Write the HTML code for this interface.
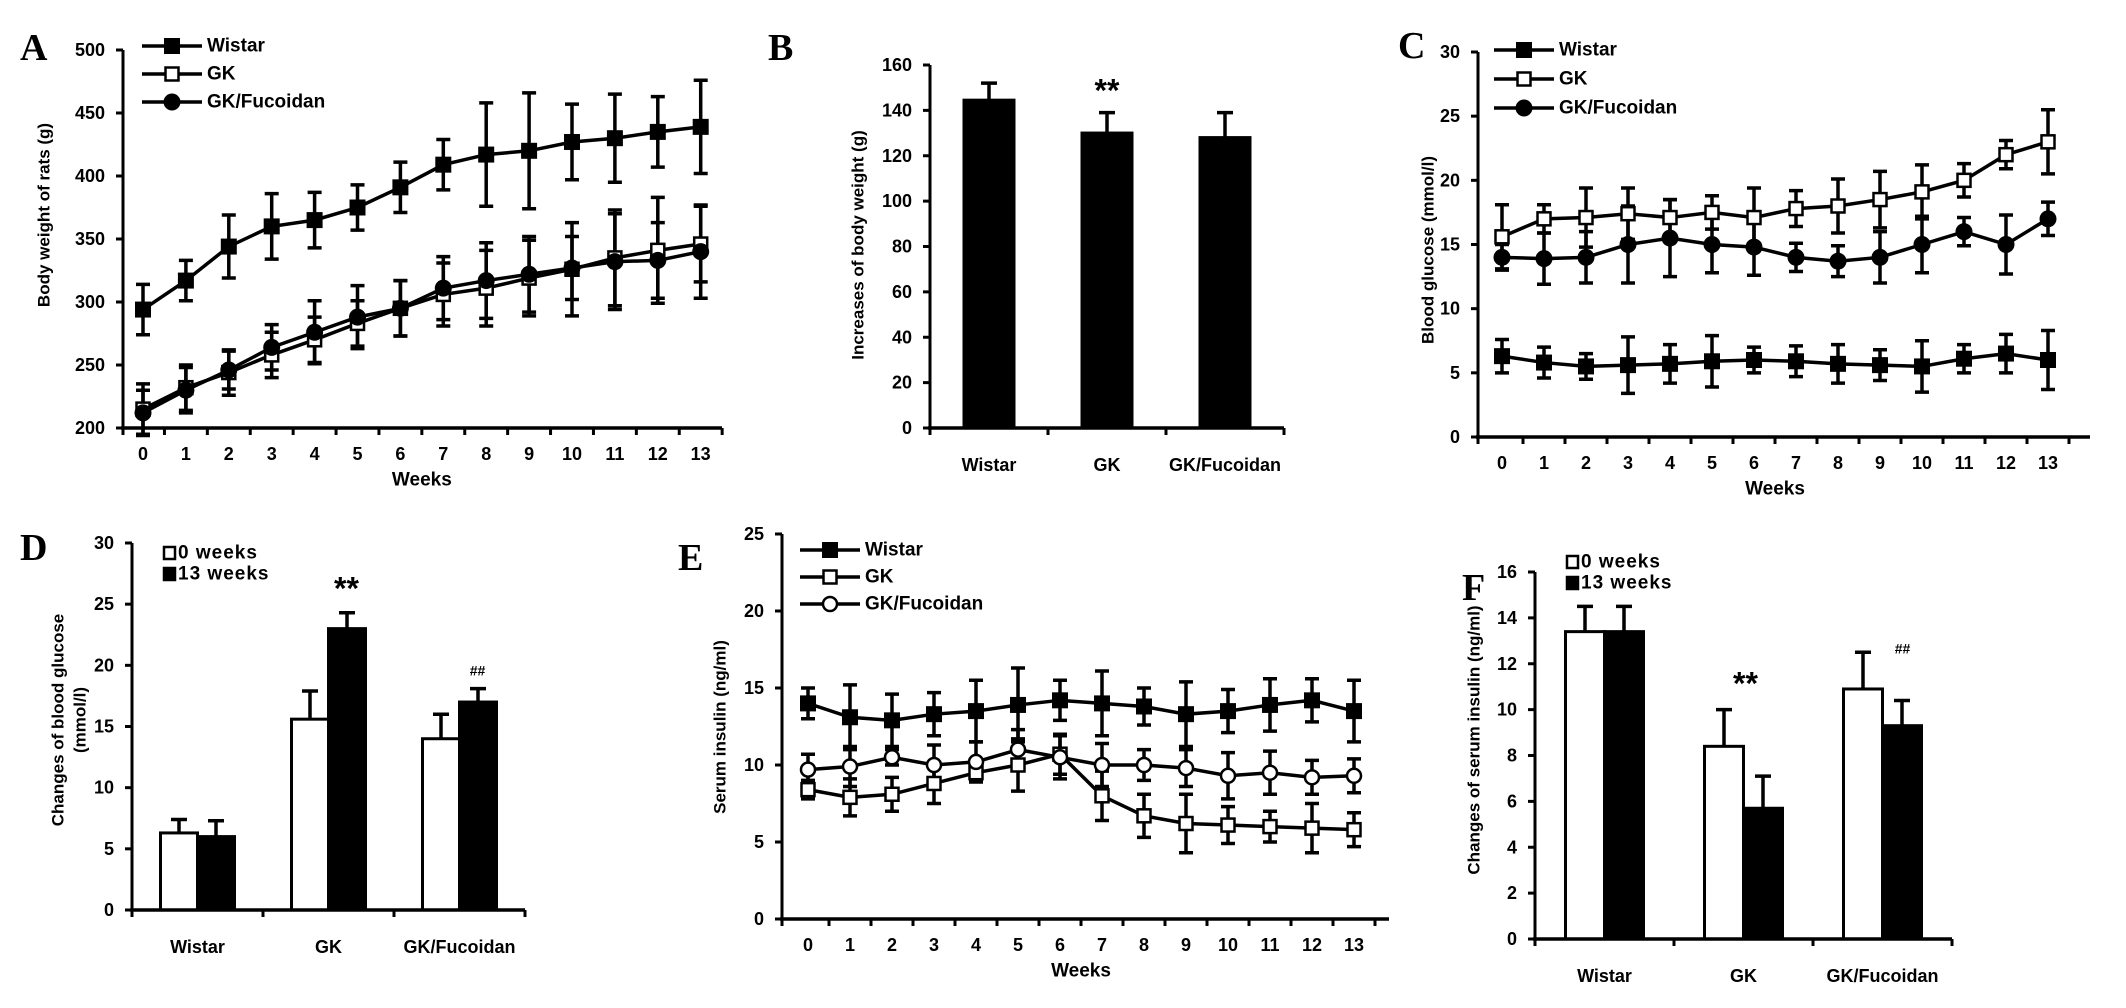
<!DOCTYPE html>
<html><head><meta charset="utf-8"><style>
html,body{margin:0;padding:0;background:#fff;}
svg{display:block;}
text{font-family:"Liberation Sans",sans-serif;font-weight:bold;fill:#000;}
.plabel{font-family:"Liberation Serif",serif;font-size:38px;font-weight:bold;}
</style></head><body>
<svg id="fig" width="2126" height="1008" viewBox="0 0 2126 1008" xmlns="http://www.w3.org/2000/svg"></svg>
<script>
// ---------- data ----------
const weeks = [0,1,2,3,4,5,6,7,8,9,10,11,12,13];
// Panel A: body weight
const A_wistar    = [294,317,344,360,365,375,391,409,417,420,427,430,435,439];
const A_wistarErr = [20,16,25,26,22,18,20,20,41,46,30,35,28,37];
const A_gk        = [215,232,244,258,270,283,295,306,311,319,326,335,341,346];
const A_gkErr     = [20,18,18,18,18,18,22,25,30,30,37,38,42,30];
const A_fuc       = [212,230,246,264,276,288,295,311,317,322,327,332,333,340];
const A_fucErr    = [18,18,15,18,25,25,22,25,30,30,25,38,30,37];
const A_yTicks    = [200,250,300,350,400,450,500];
// Panel B: increases of body weight
const B_categories = ["Wistar","GK","GK/Fucoidan"];
const B_values     = [144.5,130,128];
const B_errors     = [7.5,9,11];
const B_yTicks     = [0,20,40,60,80,100,120,140,160];
// Panel C: blood glucose
const C_wistar    = [6.3,5.8,5.5,5.6,5.7,5.9,6.0,5.9,5.7,5.6,5.5,6.1,6.5,6.0];
const C_wistarErr = [1.3,1.2,1.0,2.2,1.5,2.0,1.0,1.2,1.5,1.2,2.0,1.1,1.5,2.3];
const C_gk        = [15.6,17.0,17.1,17.4,17.1,17.5,17.1,17.8,18.0,18.5,19.1,20.0,22.0,23.0];
const C_gkErr     = [2.5,1.1,2.3,2.0,1.4,1.3,2.3,1.4,2.1,2.2,2.1,1.3,1.1,2.5];
const C_fuc       = [14.0,13.9,14.0,15.0,15.5,15.0,14.8,14.0,13.7,14.0,15.0,16.0,15.0,17.0];
const C_fucErr    = [1.0,2.0,2.0,3.0,3.0,2.2,2.2,1.1,1.2,2.0,2.2,1.1,2.3,1.3];
const C_yTicks    = [0,5,10,15,20,25,30];
// Panel D: changes of blood glucose
const D_categories = ["Wistar","GK","GK/Fucoidan"];
const D_week0      = [6.3,15.6,14.0];
const D_week0Err   = [1.1,2.3,2.0];
const D_week13     = [6.0,23.0,17.0];
const D_week13Err  = [1.3,1.3,1.1];
const D_yTicks     = [0,5,10,15,20,25,30];
// Panel E: serum insulin
const E_wistar    = [14.0,13.1,12.9,13.3,13.5,13.9,14.2,14.0,13.8,13.3,13.5,13.9,14.2,13.5];
const E_wistarErr = [1.0,2.1,1.7,1.4,2.0,2.4,1.3,2.1,1.2,2.1,1.4,1.7,1.4,2.0];
const E_gk        = [8.4,7.9,8.1,8.8,9.5,10.0,10.7,8.0,6.7,6.2,6.1,6.0,5.9,5.8];
const E_gkErr     = [0.6,1.2,1.1,1.3,0.4,1.7,1.3,1.6,1.4,1.9,1.2,1.0,1.6,1.1];
const E_fuc       = [9.7,9.9,10.5,10.0,10.2,11.0,10.5,10.0,10.0,9.8,9.3,9.5,9.2,9.3];
const E_fucErr    = [1.0,1.3,0.5,1.3,1.3,1.3,1.4,1.4,1.0,1.2,1.5,1.4,1.1,1.1];
const E_yTicks    = [0,5,10,15,20,25];
// Panel F: changes of serum insulin
const F_categories = ["Wistar","GK","GK/Fucoidan"];
const F_week0      = [13.4,8.4,10.9];
const F_week0Err   = [1.1,1.6,1.6];
const F_week13     = [13.4,5.7,9.3];
const F_week13Err  = [1.1,1.4,1.1];
const F_yTicks     = [0,2,4,6,8,10,12,14,16];

// ---------- helpers ----------
const NS = "http://www.w3.org/2000/svg";
const svg = document.getElementById("fig");
function mk(tag, attrs, parent){
  const el = document.createElementNS(NS, tag);
  for (const k in attrs) el.setAttribute(k, attrs[k]);
  (parent || svg).appendChild(el);
  return el;
}
function txt(x, y, s, size, anchor, parent){
  const t = mk("text", {x:x, y:y, "font-size":size, "text-anchor":anchor||"middle", "dominant-baseline":"central"}, parent);
  t.textContent = s;
  return t;
}
function makeScale(d0, d1, p0, p1){ return v => p0 + (v - d0) / (d1 - d0) * (p1 - p0); }

function yAxis(g, ax, yScale, ticks, top){
  const l = mk("line", {x1:ax, y1:yScale(ticks[0]), x2:ax, y2:top, stroke:"#000", "stroke-width":3}, g);
  
  
  ticks.forEach(v => {
    const tk = mk("line", {x1:ax-7, y1:yScale(v), x2:ax, y2:yScale(v), stroke:"#000", "stroke-width":3}, g);
    
    
    const t = txt(ax-18, yScale(v), String(v), 18, "end", g);
    
    
  });
}
function yTitle(g, x, y, lines){
  lines.forEach((s, i) => {
    const t = mk("text", {x:0, y:0, "font-size":17, "text-anchor":"middle", "dominant-baseline":"central",
      transform:"translate(" + (x + i*22) + "," + y + ") rotate(-90)"}, g);
    t.textContent = s;
    
    
  });
}
function panelLabel(x, y, s){
  const t = mk("text", {x:x, y:y, class:"plabel"});
  t.textContent = s;
  
  
}
function marker(g, type, x, y){
  let m;
  if (type === "fsq") m = mk("rect", {x:x-8, y:y-8, width:16, height:16, fill:"#000"}, g);
  else if (type === "osq") m = mk("rect", {x:x-6.5, y:y-6.5, width:13, height:13, fill:"#fff", stroke:"#000", "stroke-width":2.5}, g);
  else if (type === "fci") m = mk("circle", {cx:x, cy:y, r:8.5, fill:"#000"}, g);
  else m = mk("circle", {cx:x, cy:y, r:7, fill:"#fff", stroke:"#000", "stroke-width":2.5}, g);
  
  
}
function errBar(g, x, yc, ytop, ybot, cap){
  const e = mk("path", {d:"M"+x+","+ytop+"V"+ybot+"M"+(x-cap)+","+ytop+"H"+(x+cap)+(ybot!==yc?"M"+(x-cap)+","+ybot+"H"+(x+cap):""),
    stroke:"#000", "stroke-width":3.5, fill:"none"}, g);
  
  
}

// ---------- line chart ----------
function lineChart(name, cfg, seriesList){
  const g = mk("g", {});
  
  
  const yS = makeScale(cfg.yMin, cfg.yMax, cfg.y0, cfg.yTop);
  const xS = makeScale(0, 1, cfg.w0, cfg.w0 + cfg.sp);
  yAxis(g, cfg.ax, yS, cfg.yTicks, cfg.yTop);
  const xl = mk("line", {x1:cfg.ax-2, y1:cfg.y0, x2:cfg.xEnd, y2:cfg.y0, stroke:"#000", "stroke-width":3.5}, g);
  
  
  for (let i = 0; i <= weeks.length; i++){
    const tx = i === 0 ? cfg.ax : xS(weeks[0] + i - 0.5);
    const tk = mk("line", {x1:tx, y1:cfg.y0, x2:tx, y2:cfg.y0+7, stroke:"#000", "stroke-width":3}, g);
    
    
  }
  weeks.forEach(w => {
    const t = txt(xS(w), cfg.y0+26, String(w), 18, "middle", g);
    
    
  });
  const wt = txt(xS(6.5), cfg.y0+52, "Weeks", 19, "middle", g);
  
  
  seriesList.forEach(s => {
    s.vals.forEach((v, i) => errBar(g, xS(weeks[i]), yS(v), yS(v + s.errs[i]), yS(v - s.errs[i]), 7));
  });
  seriesList.forEach(s => {
    const d = s.vals.map((v, i) => (i ? "L" : "M") + xS(weeks[i]) + "," + yS(v)).join("");
    const p = mk("path", {d:d, stroke:"#000", "stroke-width":3.5, fill:"none"}, g);
    
    
  });
  seriesList.forEach(s => s.vals.forEach((v, i) => marker(g, s.marker, xS(weeks[i]), yS(v))));
  // legend
  seriesList.forEach((s, i) => {
    const ly = cfg.legY + i * cfg.legDy;
    const lg = mk("g", {}, g);
    
    
    mk("line", {x1:cfg.legX, y1:ly, x2:cfg.legX+60, y2:ly, stroke:"#000", "stroke-width":3.5}, lg);
    marker(lg, s.marker, cfg.legX+30, ly);
    const t = txt(cfg.legX+65, ly, s.label, 19, "start", lg);
    
    
  });
  return {g:g, xS:xS, yS:yS};
}

// ---------- bar chart ----------
function barChart(name, cfg, cats, pairs){
  const g = mk("g", {});
  
  
  const yS = makeScale(cfg.yMin, cfg.yMax, cfg.y0, cfg.yTop);
  const gx = i => cfg.ax + (i + 0.5) * cfg.gsp;
  yAxis(g, cfg.ax, yS, cfg.yTicks, cfg.yTop);
  const xEnd = cfg.ax + cats.length * cfg.gsp;
  pairs.forEach((p, pi) => {
    p.vals.forEach((v, i) => {
      const x0 = pairs.length === 1 ? gx(i) - cfg.bw/2 : gx(i) + (pi - 1) * cfg.bw;
      const r = mk("rect", {x:x0, y:yS(v), width:cfg.bw, height:cfg.y0 - yS(v), fill:p.fill, stroke:"#000", "stroke-width":3}, g);
      
      
      errBar(g, x0 + cfg.bw/2, yS(v), yS(v + p.errs[i]), yS(v), 8);
    });
  });
  const xl = mk("line", {x1:cfg.ax-2, y1:cfg.y0, x2:xEnd, y2:cfg.y0, stroke:"#000", "stroke-width":3.5}, g);
  
  
  for (let i = 0; i <= cats.length; i++){
    const tk = mk("line", {x1:cfg.ax + i*cfg.gsp, y1:cfg.y0, x2:cfg.ax + i*cfg.gsp, y2:cfg.y0+7, stroke:"#000", "stroke-width":3}, g);
    
    
  }
  cats.forEach((c, i) => {
    const t = txt(gx(i), cfg.y0+37, c, 18, "middle", g);
    
    
  });
  return {g:g, yS:yS, gx:gx};
}
function barLegend(g, x, y){
  [["0 weeks","#fff"],["13 weeks","#000"]].forEach((e, i) => {
    const lg = mk("g", {}, g);
    
    
    mk("rect", {x:x, y:y + i*21 - 6, width:11, height:12, fill:e[1], stroke:"#000", "stroke-width":2.5}, lg);
    const t = mk("text", {x:x+14, y:y + i*21, "font-size":19, "dominant-baseline":"central", "letter-spacing":"1"}, lg);
    t.textContent = e[0];
    
    
  });
}
function sig(g, x, y, s, size){
  const t = mk("text", {x:x, y:y, "font-size":size, "text-anchor":"middle", "dominant-baseline":"central"}, g);
  t.textContent = s;
  
  
}

// ---------- build ----------
panelLabel(20, 60, "A");
const A = lineChart("panel-a-body-weight", {ax:123, xEnd:722, y0:428, yTop:50, yMin:200, yMax:500, yTicks:A_yTicks,
  w0:143, sp:42.9, legX:142, legY:46, legDy:28},
  [{key:"wistar", label:"Wistar", vals:A_wistar, errs:A_wistarErr, marker:"fsq"},
   {key:"gk", label:"GK", vals:A_gk, errs:A_gkErr, marker:"osq"},
   {key:"gk-fucoidan", label:"GK/Fucoidan", vals:A_fuc, errs:A_fucErr, marker:"fci"}]);
yTitle(A.g, 44, 215, ["Body weight of rats (g)"]);

panelLabel(768, 60, "B");
const B = barChart("panel-b-weight-increase", {ax:930, gsp:118, bw:50, y0:428, yTop:65, yMin:0, yMax:160, yTicks:B_yTicks},
  B_categories, [{key:"increase", vals:B_values, errs:B_errors, fill:"#000"}]);
yTitle(B.g, 858, 245, ["Increases of body weight (g)"]);
sig(B.g, B.gx(1), B.yS(B_values[1] + B_errors[1]) - 22, "**", 32);

panelLabel(1398, 58, "C");
const C = lineChart("panel-c-blood-glucose", {ax:1478, xEnd:2090, y0:437, yTop:52, yMin:0, yMax:30, yTicks:C_yTicks,
  w0:1502, sp:42, legX:1494, legY:50, legDy:29},
  [{key:"wistar", label:"Wistar", vals:C_wistar, errs:C_wistarErr, marker:"fsq"},
   {key:"gk", label:"GK", vals:C_gk, errs:C_gkErr, marker:"osq"},
   {key:"gk-fucoidan", label:"GK/Fucoidan", vals:C_fuc, errs:C_fucErr, marker:"fci"}]);
yTitle(C.g, 1428, 250, ["Blood glucose  (mmol/l)"]);

panelLabel(20, 560, "D");
const D = barChart("panel-d-glucose-change", {ax:132, gsp:131, bw:37, y0:910, yTop:543, yMin:0, yMax:30, yTicks:D_yTicks},
  D_categories, [{key:"week0", vals:D_week0, errs:D_week0Err, fill:"#fff"},
                 {key:"week13", vals:D_week13, errs:D_week13Err, fill:"#000"}]);
yTitle(D.g, 58, 720, ["Changes of blood glucose", "(mmol/l)"]);
barLegend(D.g, 164, 553);
sig(D.g, D.gx(1) + 18, D.yS(D_week13[1] + D_week13Err[1]) - 24, "**", 32);
sig(D.g, D.gx(2) + 18, D.yS(D_week13[2] + D_week13Err[2]) - 18, "##", 14);

panelLabel(678, 570, "E");
const E = lineChart("panel-e-serum-insulin", {ax:782, xEnd:1389, y0:919, yTop:534, yMin:0, yMax:25, yTicks:E_yTicks,
  w0:808, sp:42, legX:800, legY:550, legDy:27},
  [{key:"wistar", label:"Wistar", vals:E_wistar, errs:E_wistarErr, marker:"fsq"},
   {key:"gk", label:"GK", vals:E_gk, errs:E_gkErr, marker:"osq"},
   {key:"gk-fucoidan", label:"GK/Fucoidan", vals:E_fuc, errs:E_fucErr, marker:"oci"}]);
yTitle(E.g, 720, 727, ["Serum insulin  (ng/ml)"]);

panelLabel(1462, 600, "F");
const F = barChart("panel-f-insulin-change", {ax:1535, gsp:139, bw:39, y0:939, yTop:572, yMin:0, yMax:16, yTicks:F_yTicks},
  F_categories, [{key:"week0", vals:F_week0, errs:F_week0Err, fill:"#fff"},
                 {key:"week13", vals:F_week13, errs:F_week13Err, fill:"#000"}]);
yTitle(F.g, 1474, 740, ["Changes of serum insulin (ng/ml)"]);
barLegend(F.g, 1567, 562);
sig(F.g, F.gx(1) + 2, F.yS(F_week0[1] + F_week0Err[1]) - 26, "**", 32);
sig(F.g, F.gx(2) + 20, F.yS(F_week0[2] + F_week0Err[2]) - 4, "##", 14);
</script>
</body></html>
